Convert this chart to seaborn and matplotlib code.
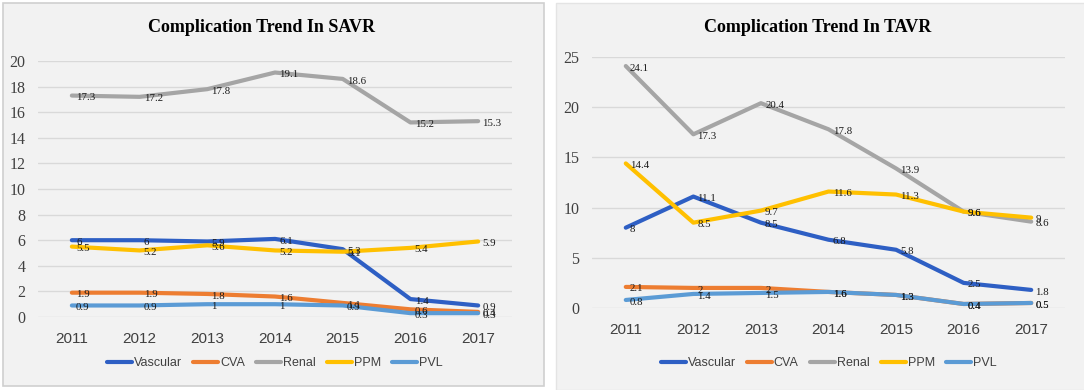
import matplotlib
matplotlib.use("Agg")
import matplotlib.pyplot as plt
from matplotlib.patches import Rectangle
from matplotlib.lines import Line2D
import seaborn as sns
import pandas as pd

years = [2011, 2012, 2013, 2014, 2015, 2016, 2017]
series_names = ["Vascular", "CVA", "Renal", "PPM", "PVL"]

savr_vascular = [6, 6, 5.9, 6.1, 5.3, 1.4, 0.9]
savr_cva = [1.9, 1.9, 1.8, 1.6, 1.1, 0.6, 0.4]
savr_renal = [17.3, 17.2, 17.8, 19.1, 18.6, 15.2, 15.3]
savr_ppm = [5.5, 5.2, 5.6, 5.2, 5.1, 5.4, 5.9]
savr_pvl = [0.9, 0.9, 1, 1, 0.9, 0.3, 0.3]

tavr_vascular = [8, 11.1, 8.5, 6.8, 5.8, 2.5, 1.8]
tavr_cva = [2.1, 2, 2, 1.6, 1.3, 0.4, 0.5]
tavr_renal = [24.1, 17.3, 20.4, 17.8, 13.9, 9.6, 8.6]
tavr_ppm = [14.4, 8.5, 9.7, 11.6, 11.3, 9.6, 9]
tavr_pvl = [0.8, 1.4, 1.5, 1.6, 1.3, 0.4, 0.5]

savr_yticks = [0, 2, 4, 6, 8, 10, 12, 14, 16, 18, 20]
tavr_yticks = [0, 5, 10, 15, 20, 25]

colors = {"Vascular": "#2E5FC4", "CVA": "#ED7D31", "Renal": "#A5A5A5",
          "PPM": "#FFC000", "PVL": "#5B9BD5"}

sns.set_theme(style="white")
SERIF = ["Liberation Serif", "DejaVu Serif"]
SANS = ["Liberation Sans Narrow", "Liberation Sans", "DejaVu Sans"]
plt.rcParams["font.family"] = SANS


def make_df(vals):
    rows = []
    for name, v in zip(series_names, vals):
        for y, val in zip(years, v):
            rows.append({"Year": y, "Value": val, "Series": name})
    return pd.DataFrame(rows)


fig = plt.figure(figsize=(10.84, 3.90), dpi=100, facecolor="white")

# panel backgrounds
fig.patches.append(Rectangle((3 / 1084, 4 / 390), 541 / 1084, 383 / 390,
                             transform=fig.transFigure, facecolor="#F2F2F2",
                             edgecolor="#D0D0D0", linewidth=1.2, zorder=-10))
fig.patches.append(Rectangle((556 / 1084, 0 / 390), 530 / 1084, 387 / 390,
                             transform=fig.transFigure, facecolor="#F2F2F2",
                             edgecolor="#E4E4E4", linewidth=1.0, zorder=-10))

ax1 = fig.add_axes([38 / 1084, 73 / 390, 474 / 1084, 256 / 390])
ax2 = fig.add_axes([592 / 1084, 82 / 390, 473 / 1084, 251 / 390])

panels = [
    (ax1, [savr_vascular, savr_cva, savr_renal, savr_ppm, savr_pvl], savr_yticks,
     "Complication Trend In SAVR", 262, -0.18),
    (ax2, [tavr_vascular, tavr_cva, tavr_renal, tavr_ppm, tavr_pvl], tavr_yticks,
     "Complication Trend In TAVR", 818, -0.22),
]

for ax, vals, yt, title, tx, legy in panels:
    ax.set_facecolor("none")
    ax.patch.set_alpha(0)
    df = make_df(vals)
    sns.lineplot(data=df, x="Year", y="Value", hue="Series", hue_order=series_names,
                 palette=colors, linewidth=3.0, ax=ax, legend=False, sort=False)
    for line in ax.get_lines():
        line.set_solid_capstyle("round")
        line.set_solid_joinstyle("round")
        line.set_clip_on(False)
    ax.set_xlim(2010.5, 2017.5)
    ax.set_ylim(yt[0], yt[-1])
    ax.set_yticks(yt)
    ax.set_xticks(years)
    ax.set_xlabel("")
    ax.set_ylabel("")
    ax.grid(axis="y", color="#D9D9D9", linewidth=1.0)
    ax.grid(axis="x", visible=False)
    ax.set_axisbelow(True)
    for s in ax.spines.values():
        s.set_visible(False)
    ax.tick_params(axis="both", length=0)
    ax.tick_params(axis="y", pad=9)
    ax.tick_params(axis="x", pad=11)
    for lab in ax.get_yticklabels():
        lab.set_family(SERIF)
        lab.set_fontsize(11.5)
        lab.set_color("#404040")
    for lab in ax.get_xticklabels():
        lab.set_family(SANS)
        lab.set_fontsize(11)
        lab.set_color("#404040")

    # data labels
    for name, v in zip(series_names, vals):
        for y, val in zip(years, v):
            ax.annotate(f"{val:g}", (y, val), xytext=(3, -1.5), textcoords="offset points",
                        ha="left", va="center", fontsize=7.8, family=SERIF,
                        color="#1a1a1a", zorder=5)

    handles = [Line2D([0], [0], color=colors[n], linewidth=3.0) for n in series_names]
    leg = ax.legend(handles, series_names, loc="center", bbox_to_anchor=(0.5, legy),
                    ncol=5, frameon=False, handlelength=2.0,
                    handletextpad=0.15, columnspacing=0.9, prop={"family": SANS, "size": 9})
    for t in leg.get_texts():
        t.set_color("#404040")

    fig.text(tx / 1084, 1 - 28 / 390, title, ha="center", va="center",
             fontsize=13, fontweight="bold", family=SERIF, color="black")

fig.savefig("out.png", dpi=100, facecolor="white")
